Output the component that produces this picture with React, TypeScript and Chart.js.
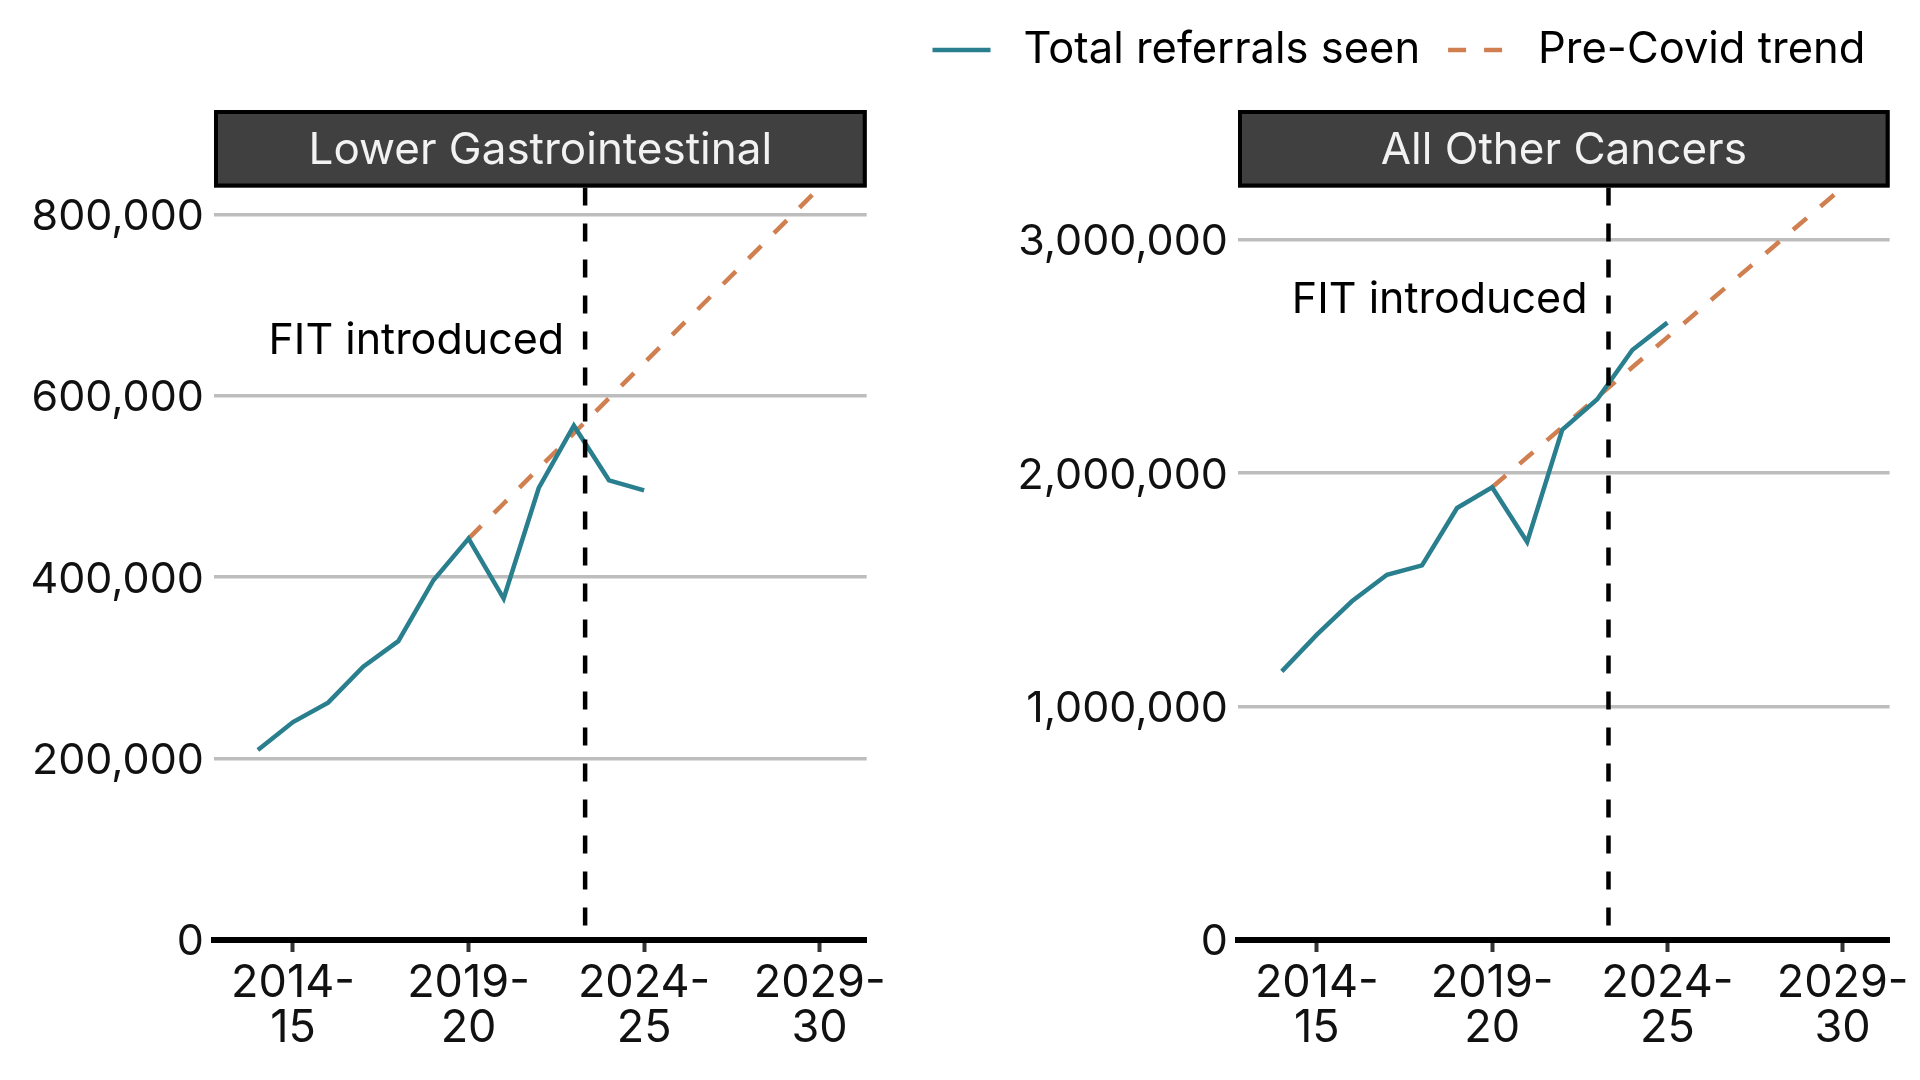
import { useEffect, useRef } from "react";
import { Chart, registerables, type ChartConfiguration, type Plugin } from "chart.js";

Chart.register(...registerables);

// financial years, plotted at their start year (2013 = 2013-14)
const YEARS = [2013, 2014, 2015, 2016, 2017, 2018, 2019, 2020, 2021, 2022, 2023, 2024];
const TREND_YEARS = [2019, 2020, 2021, 2022, 2023, 2024, 2025, 2026, 2027, 2028, 2029];

const LGI_SEEN = [209400, 240200, 261600, 301200, 329400, 396600, 442500, 376400, 498300, 566900, 506700, 495700];
const LGI_TREND = [442500, 481200, 519900, 558600, 597300, 636000, 674700, 713400, 752100, 790800, 829500];

const OTHER_SEEN = [1151000, 1308000, 1451000, 1565000, 1605000, 1851000, 1940000, 1705000, 2186000, 2317000, 2528000, 2645000];
const OTHER_TREND = [1940000, 2068000, 2197000, 2325000, 2454000, 2582000, 2710000, 2839000, 2967000, 3096000, 3224000];

const X_TICKS = [2014, 2019, 2024, 2029];
const LGI_Y_TICKS = [0, 200000, 400000, 600000, 800000];
const OTHER_Y_TICKS = [0, 1000000, 2000000, 3000000];

const SERIES = ["Total referrals seen", "Pre-Covid trend"];
const FIT_YEAR = 2022.32;
const FIT_LABEL = "FIT introduced";

const TEAL = "#2a7f8f";
const ORANGE = "#d08050";
const FONT = "Inter, 'Noto Sans', sans-serif";

interface PanelProps {
  title: string;
  seen: number[];
  trend: number[];
  yTicks: number[];
  yMax: number;
  labelY: number;
  axisWidth: number;
  padRight: number;
  showLegend?: boolean;
}

const fmt = (v: number) => v.toLocaleString("en-US");

function Panel({ title, seen, trend, yTicks, yMax, labelY, axisWidth, padRight, showLegend }: PanelProps) {
  const canvasRef = useRef<HTMLCanvasElement>(null);
  const chartRef = useRef<Chart<"line"> | null>(null);

  useEffect(() => {
    if (!canvasRef.current) return;
    const ctx = canvasRef.current.getContext("2d");
    if (!ctx) return;
    chartRef.current?.destroy();

    // dark strip header above the panel
    const strip: Plugin<"line"> = {
      id: "strip",
      afterDraw(chart) {
        const { left, right, top } = chart.chartArea;
        const c = chart.ctx;
        c.save();
        c.fillStyle = "#404040";
        c.fillRect(left, 110, right - left, top - 110);
        c.strokeStyle = "#000";
        c.lineWidth = 4;
        c.strokeRect(left + 2, 112, right - left - 4, top - 114);
        c.fillStyle = "#f2f2f2";
        c.font = `44px ${FONT}`;
        c.textAlign = "center";
        c.textBaseline = "middle";
        c.fillText(title, (left + right) / 2, (110 + top) / 2 + 2);
        c.restore();
      },
    };

    // vertical FIT line plus its label
    const fit: Plugin<"line"> = {
      id: "fit",
      afterDatasetsDraw(chart) {
        const { top, bottom } = chart.chartArea;
        const x = chart.scales.x.getPixelForValue(FIT_YEAR);
        const c = chart.ctx;
        c.save();
        c.strokeStyle = "#000";
        c.lineWidth = 4.5;
        c.setLineDash([18, 18]);
        c.beginPath();
        c.moveTo(x, top);
        c.lineTo(x, bottom);
        c.stroke();
        c.setLineDash([]);
        c.fillStyle = "#000";
        c.font = `43px ${FONT}`;
        c.textAlign = "right";
        c.textBaseline = "middle";
        c.fillText(FIT_LABEL, x - 21, chart.scales.y.getPixelForValue(labelY));
        c.restore();
      },
    };

    const legend: Plugin<"line"> = {
      id: "legendTop",
      afterDraw(chart) {
        if (!showLegend) return;
        const c = chart.ctx;
        const y = 50;
        c.save();
        c.font = `43.5px ${FONT}`;
        c.textBaseline = "middle";
        c.textAlign = "left";
        c.lineWidth = 4.5;
        let x = 32.5;
        c.strokeStyle = TEAL;
        c.beginPath();
        c.moveTo(x, y);
        c.lineTo(x + 58, y);
        c.stroke();
        x += 91;
        c.fillStyle = "#000";
        c.fillText(SERIES[0], x, y);
        x += c.measureText(SERIES[0]).width + 28;
        c.strokeStyle = ORANGE;
        c.setLineDash([18, 18]);
        c.beginPath();
        c.moveTo(x, y);
        c.lineTo(x + 54, y);
        c.stroke();
        c.setLineDash([]);
        x += 90;
        c.fillText(SERIES[1], x, y);
        c.restore();
      },
    };

    const config: ChartConfiguration<"line"> = {
      type: "line",
      data: {
        datasets: [
          {
            label: SERIES[0],
            data: YEARS.map((yr, i) => ({ x: yr, y: seen[i] })),
            borderColor: TEAL,
            borderWidth: 4.5,
            pointRadius: 0,
            tension: 0,
          },
          {
            label: SERIES[1],
            data: TREND_YEARS.map((yr, i) => ({ x: yr, y: trend[i] })),
            borderColor: ORANGE,
            borderWidth: 4.5,
            borderDash: [18, 18],
            pointRadius: 0,
            tension: 0,
          },
        ],
      },
      options: {
        responsive: true,
        maintainAspectRatio: false,
        animation: false,
        layout: { padding: { top: 187.5, right: padRight, bottom: 0, left: 0 } },
        plugins: {
          legend: { display: false },
          tooltip: { enabled: false },
        },
        scales: {
          x: {
            type: "linear",
            min: 2011.75,
            max: 2030.34,
            afterBuildTicks: (scale) => {
              scale.ticks = X_TICKS.map((v) => ({ value: v }));
            },
            afterFit: (scale) => {
              scale.height = 140;
            },
            grid: {
              drawOnChartArea: false,
              drawTicks: true,
              tickLength: 12,
              tickWidth: 4,
              tickColor: "#333",
            },
            border: { display: true, color: "#000", width: 6 },
            ticks: {
              autoSkip: false,
              maxRotation: 0,
              padding: 9,
              color: "#111",
              font: { family: FONT, size: 45, lineHeight: 1.0 },
              callback: (v) => {
                const yr = Number(v);
                return [`${yr}-`, String((yr + 1) % 100).padStart(2, "0")];
              },
            },
          },
          y: {
            min: 0,
            max: yMax,
            afterBuildTicks: (scale) => {
              scale.ticks = yTicks.map((v) => ({ value: v }));
            },
            afterFit: (scale) => {
              scale.width = axisWidth;
            },
            grid: { color: "#bdbdbd", lineWidth: 3.5, drawTicks: false },
            border: { display: false },
            ticks: {
              padding: 10,
              labelOffset: 2.5,
              color: "#111",
              font: { family: FONT, size: 43 },
              callback: (v) => fmt(Number(v)),
            },
          },
        },
      },
      plugins: [strip, fit, legend],
    };

    chartRef.current = new Chart(ctx, config);
    return () => {
      chartRef.current?.destroy();
      chartRef.current = null;
    };
  }, [title, seen, trend, yTicks, yMax, labelY, axisWidth, padRight, showLegend]);

  return <canvas ref={canvasRef} />;
}

export default function App() {
  return (
    <div style={{ position: "absolute", left: 0, top: 0, width: 1920, height: 1080, background: "#fff" }}>
      <div style={{ position: "absolute", left: 0, top: 0, width: 900, height: 1080 }}>
        <Panel
          title="Lower Gastrointestinal"
          seen={LGI_SEEN}
          trend={LGI_TREND}
          yTicks={LGI_Y_TICKS}
          yMax={829500}
          labelY={660000}
          axisWidth={214}
          padRight={33.3}
        />
      </div>
      <div style={{ position: "absolute", left: 900, top: 0, width: 1020, height: 1080 }}>
        <Panel
          title="All Other Cancers"
          seen={OTHER_SEEN}
          trend={OTHER_TREND}
          yTicks={OTHER_Y_TICKS}
          yMax={3224000}
          labelY={2742000}
          axisWidth={338}
          padRight={30.4}
          showLegend
        />
      </div>
    </div>
  );
}
